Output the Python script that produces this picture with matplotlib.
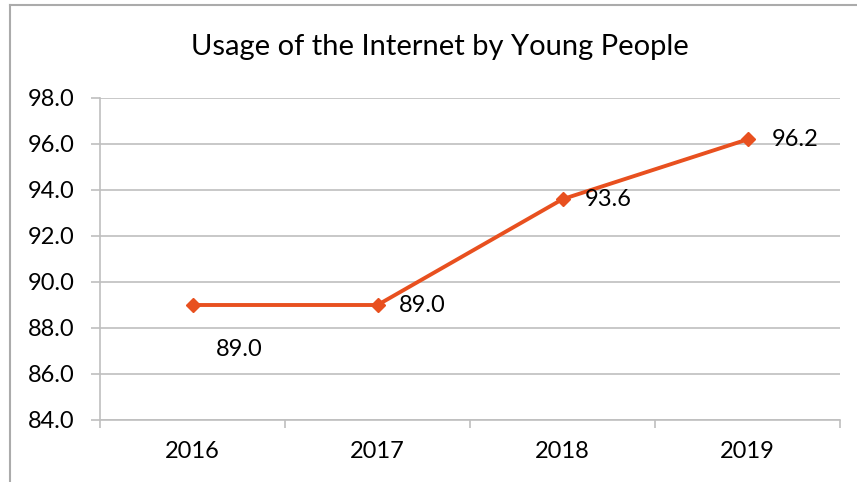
import matplotlib.pyplot as plt
from matplotlib.lines import Line2D

years = ["2016", "2017", "2018", "2019"]
usage = [89.0, 89.0, 93.6, 96.2]
yticks = [84, 86, 88, 90, 92, 94, 96, 98]
# label offsets in points (x, y)
label_offsets = [(34, -32), (32, 0), (33, 0), (34, 0)]

plt.rcParams['font.family'] = ['Lato', 'DejaVu Sans']

fig = plt.figure(figsize=(8.57, 4.82), dpi=100)
ax = fig.add_axes([100 / 857, 1 - 420 / 482, 740 / 857, 322 / 482])

line_color = '#E8501F'
grid_color = '#BFBFBF'
xs = list(range(len(years)))
ax.plot(xs, usage, color=line_color, lw=2.8, marker='D', ms=7, zorder=3)

for x, v, off in zip(xs, usage, label_offsets):
    ax.annotate(f"{v:.1f}", (x, v), xytext=off, textcoords='offset points',
                ha='center', va='center', fontsize=17, color='#000000')

ax.set_xlim(-0.5, len(years) - 0.5)
ax.set_ylim(84, 98)
ax.set_yticks(yticks)
ax.set_yticklabels([f"{t:.1f}" for t in yticks])
ax.set_xticks(xs)
ax.set_xticklabels(years)
ax.set_xticks([i - 0.5 for i in range(len(years) + 1)], minor=True)

ax.yaxis.grid(True, color=grid_color, lw=1.2)
ax.set_axisbelow(True)
for s in ['top', 'right']:
    ax.spines[s].set_visible(False)
for s in ['left', 'bottom']:
    ax.spines[s].set_color(grid_color)
    ax.spines[s].set_linewidth(1.2)

ax.tick_params(axis='y', length=6.5, width=1.2, color=grid_color, pad=12, labelsize=17)
ax.tick_params(axis='x', which='major', length=0, pad=15, labelsize=17)
ax.tick_params(axis='x', which='minor', length=6, width=1.2, color=grid_color)

fig.text(440 / 857, 1 - 47 / 482, "Usage of the Internet by Young People",
         ha='center', va='center', fontsize=21)

# chart border (partially cropped)
fig.add_artist(Line2D([10 / 857, 10 / 857], [0, 1 - 5 / 482], transform=fig.transFigure,
                      color='#ABABAB', lw=1.5))
fig.add_artist(Line2D([10 / 857, 1], [1 - 5 / 482, 1 - 5 / 482], transform=fig.transFigure,
                      color='#ABABAB', lw=1.5))

fig.savefig('out.png', dpi=100)
